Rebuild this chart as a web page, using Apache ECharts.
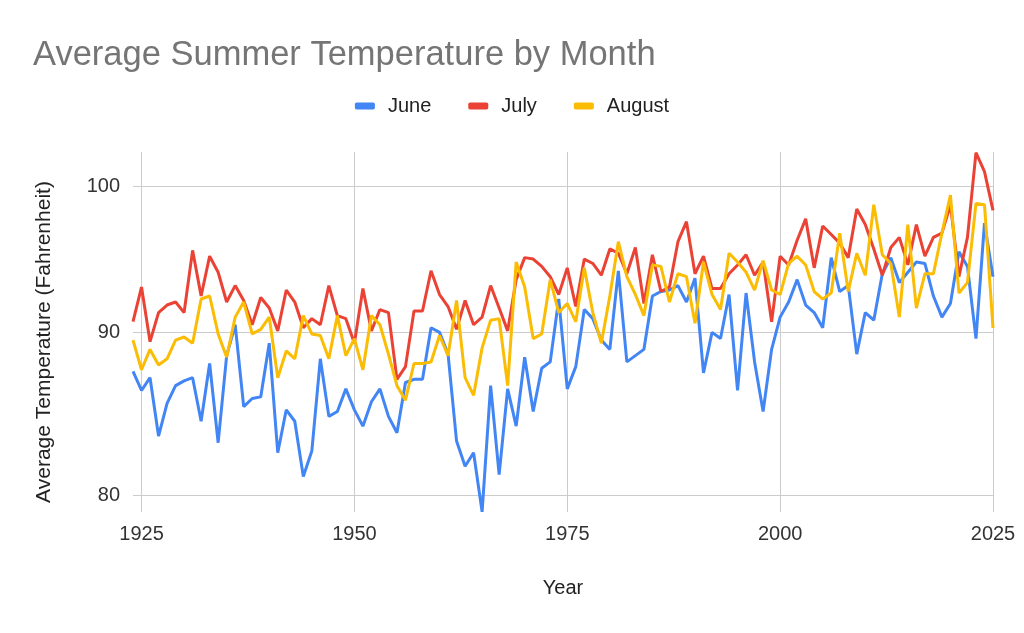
<!DOCTYPE html>
<html>
    <head>
        <title>Average Summer Temperature by Month</title>
        <meta charset="UTF-8">
        <script src="https://cdn.jsdelivr.net/npm/echarts@6/dist/echarts.min.js"></script>
        <style>
            html, body { margin: 0; padding: 0; background: #fff; }
            #container { width: 1024px; height: 633px; }
        </style>
    </head>
    <body>
        <div id="container"></div>
        <script type="text/javascript">
            var startYear = 1924;
            var yearTicks = [1925, 1950, 1975, 2000, 2025];
            var tempTicks = [80, 90, 100];

            // 1924 .. 2025
            var june = [
                87.5, 86.3, 87.1, 83.5, 85.5, 86.6, 86.9, 87.1, 84.4, 88.0,
                83.1, 88.5, 90.5, 85.3, 85.8, 85.9, 89.3, 82.5, 85.1, 84.4,
                81.1, 82.6, 88.3, 84.7, 85.0, 86.4, 85.1, 84.1, 85.6, 86.4,
                84.7, 83.7, 86.8, 87.0, 87.0, 90.3, 90.0, 88.6, 83.2, 81.7,
                82.5, 79.05, 86.6, 81.2, 86.4, 84.1, 88.4, 85.0, 87.7, 88.1,
                92.2, 86.4, 87.8, 91.5, 90.9, 89.5, 88.9, 94.1, 88.1, 88.5,
                88.9, 92.4, 92.7, 92.8, 93.1, 92.0, 93.6, 87.4, 90.0, 89.6,
                92.5, 86.3, 92.6, 88.1, 85.0, 88.9, 91.0, 92.0, 93.5, 91.8,
                91.3, 90.3, 95.0, 92.7, 93.1, 88.6, 91.3, 90.8, 93.9, 95.0,
                93.3, 94.0, 94.7, 94.6, 92.4, 91.0, 91.9, 95.4, 94.4, 89.6,
                97.4, 93.7
            ];
            var july = [
                90.7, 93.0, 89.4, 91.3, 91.8, 92.0, 91.3, 95.5, 92.4, 95.1,
                94.0, 92.0, 93.1, 92.1, 90.5, 92.3, 91.6, 90.1, 92.8, 92.0,
                90.3, 90.9, 90.5, 93.1, 91.1, 90.9, 89.3, 92.9, 90.1, 91.5,
                91.3, 87.0, 87.8, 91.4, 91.4, 94.1, 92.5, 91.7, 90.2, 92.1,
                90.5, 91.0, 93.1, 91.6, 90.1, 93.5, 95.0, 94.9, 94.4, 93.7,
                92.5, 94.3, 91.7, 94.9, 94.6, 93.8, 95.6, 95.3, 93.9, 95.7,
                91.9, 95.2, 92.7, 93.0, 96.1, 97.5, 93.9, 95.1, 92.9, 92.9,
                93.9, 94.5, 95.2, 93.8, 94.7, 90.7, 95.1, 94.5, 96.2, 97.7,
                94.3, 97.2, 96.6, 96.0, 95.0, 98.4, 97.3, 95.6, 93.8, 95.7,
                96.4, 94.5, 97.3, 95.1, 96.4, 96.7, 98.7, 93.7, 96.4, 102.5,
                101.1, 98.3
            ];
            var august = [
                89.5, 87.6, 88.9, 87.9, 88.3, 89.5, 89.7, 89.3, 92.2, 92.4,
                89.9, 88.4, 91.0, 92.0, 89.9, 90.2, 91.0, 87.1, 88.8, 88.3,
                91.1, 89.9, 89.8, 88.3, 91.1, 88.5, 89.6, 87.6, 91.1, 90.5,
                88.6, 86.6, 85.7, 88.0, 88.0, 88.1, 89.8, 88.5, 92.1, 87.1,
                86.0, 89.0, 90.8, 90.9, 86.6, 94.7, 93.0, 89.6, 89.9, 93.5,
                91.3, 91.9, 90.7, 94.3, 91.3, 89.3, 92.4, 96.1, 93.7, 92.5,
                91.1, 94.5, 94.4, 92.0, 93.9, 93.7, 90.6, 94.7, 92.5, 91.5,
                95.3, 94.7, 94.0, 92.8, 94.8, 92.8, 92.5, 94.6, 95.1, 94.5,
                92.7, 92.2, 92.6, 96.7, 92.7, 95.3, 93.8, 98.7, 95.2, 94.6,
                91.0, 97.3, 91.6, 93.9, 93.9, 96.7, 99.4, 92.6, 93.3, 98.8,
                98.7, 90.3
            ];

            function pairs(vals) {
                var out = [];
                for (var i = 0; i < vals.length; i++) {
                    out.push([startYear + i, vals[i]]);
                }
                return out;
            }

            var myChart = echarts.init(document.getElementById('container'), null, {renderer: 'canvas'});
            var font = '"Liberation Sans", Arial, sans-serif';
            var option = {
                animation: false,
                backgroundColor: '#fff',
                textStyle: {fontFamily: font},
                title: {
                    text: 'Average Summer Temperature by Month',
                    left: 28,
                    top: 33,
                    textStyle: {color: '#757575', fontSize: 34.5, fontWeight: 'normal', fontFamily: font}
                },
                legend: {
                    top: 91,
                    left: 'center',
                    icon: 'roundRect',
                    itemWidth: 20,
                    itemHeight: 7,
                    itemGap: 37,
                    textStyle: {color: '#222', fontSize: 20, fontFamily: font, padding: [0, 0, 0, 8]},
                    data: ['June', 'July', 'August']
                },
                grid: {left: 133, right: 31, top: 152, bottom: 121},
                xAxis: {
                    type: 'value',
                    min: startYear,
                    max: 2025,
                    name: 'Year',
                    nameLocation: 'middle',
                    nameGap: 66,
                    nameTextStyle: {color: '#222', fontSize: 20},
                    axisLine: {show: false},
                    axisTick: {show: false, customValues: yearTicks},
                    axisLabel: {
                        customValues: yearTicks, color: '#333', fontSize: 20, margin: 12,
                        formatter: function (v) { return String(v); }
                    },
                    splitLine: {show: true, lineStyle: {color: '#cccccc', width: 1}}
                },
                yAxis: {
                    type: 'log',
                    logBase: 10,
                    min: 79.04,
                    max: 102.54,
                    name: 'Average Temperature (Fahrenheit)',
                    nameLocation: 'middle',
                    nameGap: 78,
                    nameTextStyle: {color: '#222', fontSize: 21, padding: [0, 20, 0, 0]},
                    axisLine: {show: false},
                    axisTick: {show: false, customValues: tempTicks},
                    axisLabel: {
                        customValues: tempTicks, color: '#333', fontSize: 20, margin: 13,
                        formatter: function (v) { return String(Math.round(v)); }
                    },
                    splitLine: {show: true, lineStyle: {color: '#cccccc', width: 1}}
                },
                series: [
                    {name: 'June', type: 'line', data: pairs(june), showSymbol: false, color: '#4285F4', lineStyle: {width: 3}},
                    {name: 'July', type: 'line', data: pairs(july), showSymbol: false, color: '#EA4335', lineStyle: {width: 3}},
                    {name: 'August', type: 'line', data: pairs(august), showSymbol: false, color: '#FBBC04', lineStyle: {width: 3}}
                ]
            };
            myChart.setOption(option);
        </script>
    </body>
</html>
